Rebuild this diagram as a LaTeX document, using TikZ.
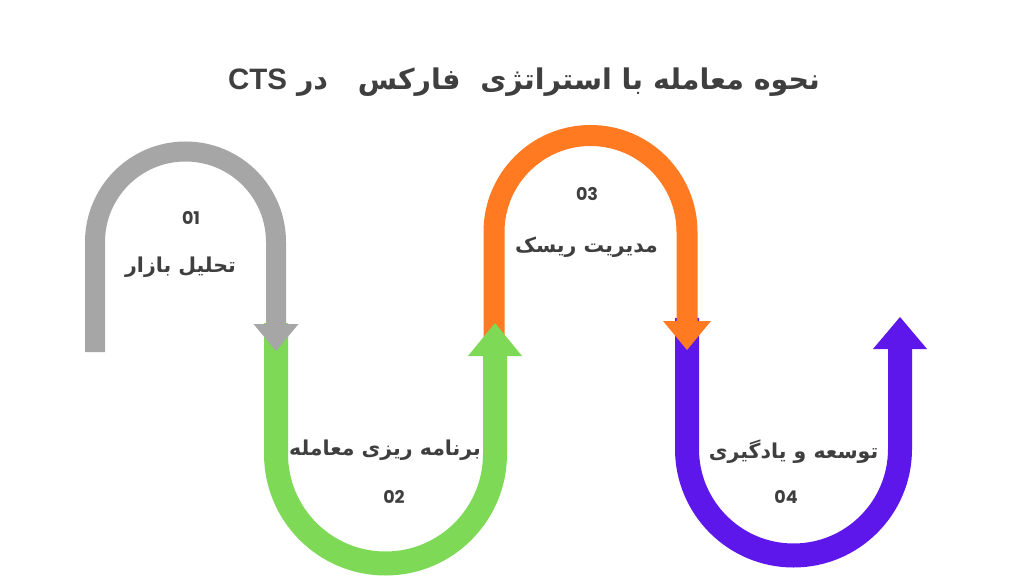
\documentclass[tikz,border=0pt]{standalone}
\usepackage{fontspec}
\TeXXeTstate=1
\newfontfamily\arabicfont[Script=Arabic]{DejaVu Sans}
\newfontfamily\numfont{Poppins}
\newfontfamily\latinfont{Liberation Sans}
\definecolor{txtgray}{HTML}{3F3F3F}
\definecolor{bandgray}{HTML}{A6A6A6}
\definecolor{bandgreen}{HTML}{7ED957}
\definecolor{bandorange}{HTML}{FF7A21}
\definecolor{bandpurple}{HTML}{5E17EB}
\tikzset{
  steplabel/.style={text=txtgray, inner sep=0pt, font=\arabicfont\bfseries\fontsize{20.5}{24}\selectfont},
  stepnum/.style={text=txtgray, inner sep=0pt, font=\numfont\bfseries\fontsize{17.5}{20}\selectfont},
}
\begin{document}
\begin{tikzpicture}[x=1pt,y=1pt]
\useasboundingbox[fill=white] (0,0) rectangle (1024,576);
\draw[bandpurple, line width=24pt] (687,258) -- (687,127) arc[start angle=180, end angle=360, radius=106.5] -- (900,227);
\fill[bandpurple] (873,227) -- (927,227) -- (900,259) -- cycle;
\draw[bandorange, line width=21pt] (494,236) -- (494,344) arc[start angle=180, end angle=0, radius=96.5] -- (687,255);
\fill[bandorange] (663,255) -- (711,255) -- (687,226) -- cycle;
\draw[bandgreen, line width=24pt] (276,253) -- (276,122) arc[start angle=180, end angle=360, radius=109.5] -- (495,220);
\fill[bandgreen] (468,220) -- (522,220) -- (495,253) -- cycle;
\draw[bandgray, line width=20pt] (95,224) -- (95,334) arc[start angle=180, end angle=0, radius=90.5] -- (276,252);
\fill[bandgray] (253.5,252) -- (298.5,252) -- (276,225) -- cycle;
\node[text=txtgray, font=\arabicfont\bfseries\fontsize{28.5}{34}\selectfont] (title) at (524,494) {\beginR نحوه معامله با استراتژی\ \ فارکس\ \ \ در \beginL{\latinfont\bfseries\fontsize{29.5}{34}\selectfont CTS}\endL\endR};
\node[stepnum] (num1) at (191,358) {01};
\node[steplabel] (lbl1) at (180.5,309) {\beginR تحلیل بازار\endR};
\node[stepnum] (num2) at (394,79.5) {02};
\node[steplabel] (lbl2) at (385,126) {\beginR برنامه ریزی معامله\endR};
\node[stepnum] (num3) at (587,381.5) {03};
\node[steplabel] (lbl3) at (586.5,329) {\beginR مدیریت ریسک\endR};
\node[stepnum] (num4) at (786,79.5) {04};
\node[steplabel] (lbl4) at (793.5,124) {\beginR توسعه و یادگیری\endR};
\end{tikzpicture}
\end{document}
